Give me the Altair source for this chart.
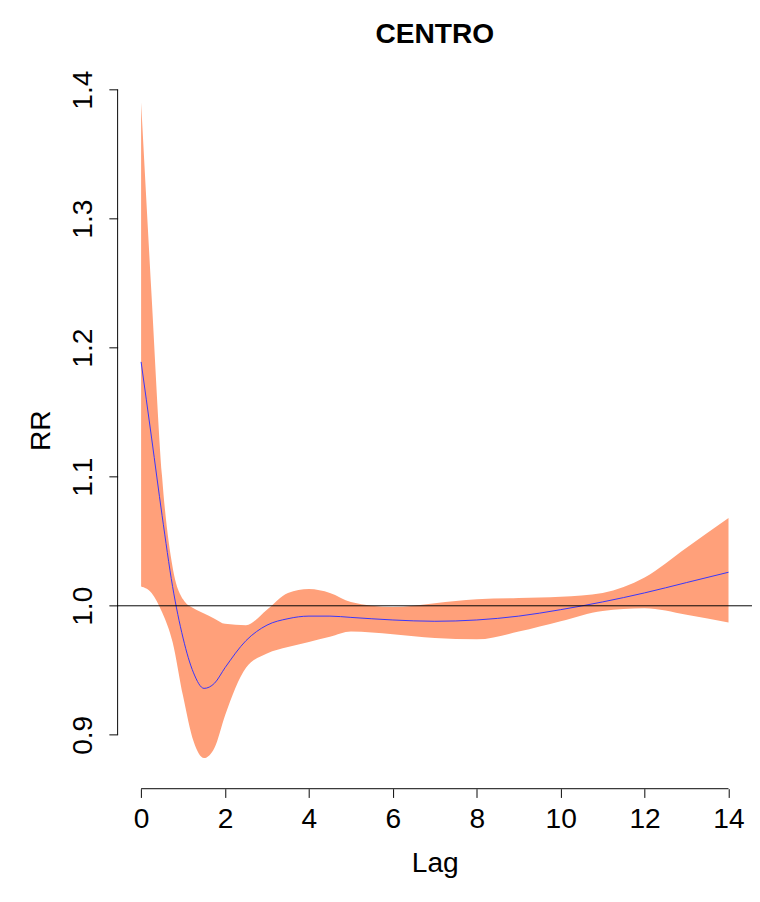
import altair as alt
import pandas as pd

lag = [0, 0.25, 0.5, 0.75, 1, 1.25, 1.5, 1.75, 2, 2.5, 3, 3.5, 4, 4.5, 5, 6, 7, 8, 9, 10, 11, 12, 13, 14]
rr = [1.189, 1.13, 1.07, 1.015, 0.975, 0.948, 0.936, 0.94, 0.952, 0.973, 0.985, 0.99, 0.992, 0.992, 0.991, 0.989, 0.988, 0.989, 0.992, 0.997, 1.003, 1.010, 1.018, 1.026]
upper = [1.39, 1.24, 1.10, 1.03, 1.005, 0.998, 0.994, 0.99, 0.986, 0.985, 0.997, 1.01, 1.013, 1.01, 1.003, 0.999, 1.002, 1.005, 1.006, 1.007, 1.01, 1.022, 1.045, 1.068]
lower = [1.015, 1.01, 0.995, 0.972, 0.93, 0.895, 0.882, 0.89, 0.915, 0.952, 0.963, 0.968, 0.972, 0.976, 0.98, 0.978, 0.975, 0.974, 0.98, 0.988, 0.996, 0.998, 0.993, 0.987]

df = pd.DataFrame({"lag": lag, "rr": rr, "upper": upper, "lower": lower})

xs = alt.Scale(domain=[-0.56, 14.56], nice=False, zero=False)
ys = alt.Scale(domain=[0.862, 1.41], nice=False, zero=False)

W, H = 654, 729
fs = 29

band = alt.Chart(df).mark_area(color="#FFA07A", opacity=1, interpolate="monotone").encode(
    x=alt.X("lag:Q", scale=xs, axis=alt.Axis(
        values=list(range(0, 15, 2)), title="Lag", domain=False, grid=False,
        offset=5, tickSize=9, tickColor="black", labelFontSize=fs, titleFontSize=fs,
        labelColor="black", titleColor="black", labelFont="Arial", titleFont="Arial",
        titleFontWeight="normal", labelPadding=8, titlePadding=16)),
    y=alt.Y("lower:Q", scale=ys, axis=alt.Axis(
        values=[0.9, 1.0, 1.1, 1.2, 1.3, 1.4], format=".1f", title="RR", domain=False, grid=False,
        offset=0, tickSize=9, tickColor="black", labelFontSize=fs, titleFontSize=fs,
        labelAngle=-90, labelAlign="center", labelBaseline="bottom",
        labelColor="black", titleColor="black", labelFont="Arial", titleFont="Arial",
        titleFontWeight="normal", labelPadding=12, titlePadding=14)),
    y2="upper:Q",
)

line = alt.Chart(df).mark_line(color="#3333ff", strokeWidth=1, interpolate="monotone").encode(
    x=alt.X("lag:Q", scale=xs), y=alt.Y("rr:Q", scale=ys))

ref = alt.Chart(pd.DataFrame({"y": [1.0]})).mark_rule(color="black", strokeWidth=1).encode(
    y=alt.Y("y:Q", scale=ys), x=alt.value(0), x2=alt.value(W))

yaxis = alt.Chart(pd.DataFrame({"a": [0.9], "b": [1.4]})).mark_rule(color="black").encode(
    y=alt.Y("a:Q", scale=ys), y2="b:Q", x=alt.value(0))

xaxis = alt.Chart(pd.DataFrame({"a": [0], "b": [14]})).mark_rule(color="black").encode(
    x=alt.X("a:Q", scale=xs), x2="b:Q", y=alt.value(H + 5))

chart = alt.layer(band, line, ref, yaxis, xaxis).properties(
    width=W, height=H,
    title=alt.TitleParams("CENTRO", fontSize=29, font="Arial", fontWeight="bold", anchor="middle", offset=22),
    autosize=alt.AutoSizeParams(type="none"),
    padding={"left": 113, "top": 57, "right": 0, "bottom": 110},
).configure_view(stroke=None)

chart.save("out.html", embed_options={"renderer": "svg", "actions": False})
